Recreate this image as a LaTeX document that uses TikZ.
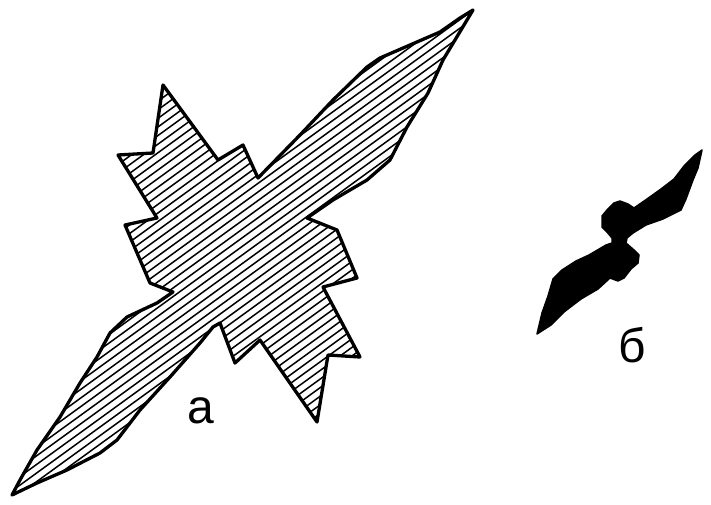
\documentclass[tikz,border=0pt]{standalone}
\usepackage{fontspec}
\setmainfont{Liberation Sans}
\tikzset{
  outline/.style={draw=black,line width=3.3pt,line join=round},
  hatch/.style={black,line width=1.5pt},
  blob/.style={fill=black,draw=black,line width=1.5pt,line join=round},
  letter/.style={font=\fontsize{48}{48}\selectfont,inner sep=0pt,anchor=base},
}
% outline of the hatched figure
\def\shapeA{(473,10) -- (443,60) -- (428,93) -- (407,127) -- (390,160) -- (367,180)
  -- (333,200) -- (307,218) -- (337,230) -- (357,278) -- (323,287) -- (360,357)
  -- (328,355) -- (317,422) -- (260,340) -- (235,363) -- (220,323) -- (213,327)
  -- (200,343) -- (170,377) -- (140,410) -- (117,440) -- (100,453) -- (67,470)
  -- (37,483) -- (12,495) -- (20,480) -- (37,450) -- (60,417) -- (80,383)
  -- (97,357) -- (110,333) -- (127,317) -- (157,303) -- (173,292) -- (150,283)
  -- (125,225) -- (157,218) -- (118,155) -- (153,153) -- (163,85) -- (218,160)
  -- (243,145) -- (258,178) -- (300,135) -- (333,100) -- (367,67) -- (380,58)
  -- (410,45) -- (440,32) -- (460,18) -- cycle}

\begin{document}
\begin{tikzpicture}[x=1pt,y=-1pt]
  \useasboundingbox (0,0) rectangle (711,505);

  % Hatched figure
  \begin{scope}
    \clip \shapeA;
    \foreach \c in {190,198.6,...,680}
      \draw[hatch] (0,\c) -- (711,\c-516);
  \end{scope}
  \draw[outline] \shapeA;

  % Black figure
  \draw[blob] (702,150) -- (698,168) -- (693,180) -- (686,199) -- (681,210)
    -- (663,219) -- (646,225) -- (633,233) -- (627,238) -- (626,243) -- (634,250)
    -- (639,255) -- (638,263) -- (631,269) -- (624,278) -- (618,281) -- (610,278)
    -- (598,289) -- (581,299) -- (564,312) -- (551,325) -- (537,334) -- (542,313)
    -- (548,296) -- (553,279) -- (562,270) -- (576,261) -- (589,255) -- (606,245)
    -- (612,243) -- (612,238) -- (607,232) -- (602,227) -- (602,216) -- (607,210)
    -- (614,203) -- (620,201) -- (628,204) -- (634,208) -- (647,199) -- (661,189)
    -- (674,179) -- (684,166) -- (695,155) -- cycle;

  % Labels
  \node[letter] (la) at (201,423) {а};
  \node[letter] (lb) at (632,362) {б};
\end{tikzpicture}
\end{document}
